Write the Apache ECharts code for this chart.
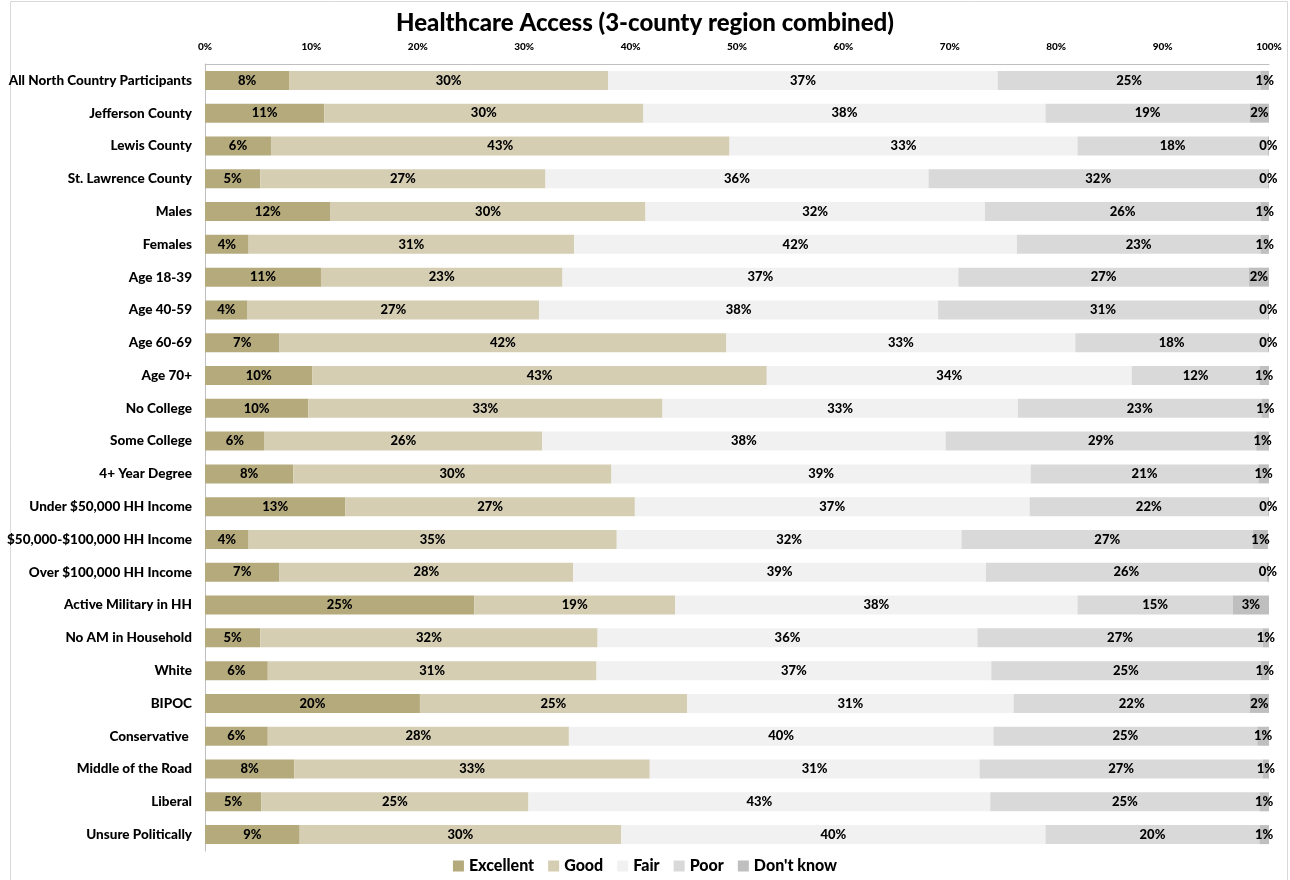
<!DOCTYPE html>
<html>
<head>
<meta charset="utf-8">
<script src="https://cdn.jsdelivr.net/npm/echarts@6/dist/echarts.min.js"></script>
<style>
html,body{margin:0;padding:0;background:#fff;}
#chart{width:1290px;height:880px;}
</style>
</head>
<body>
<div id="chart"></div>
<script>
const titleText = "Healthcare Access (3-county region combined)";
const categories = [
  "All North Country Participants","Jefferson County","Lewis County","St. Lawrence County",
  "Males","Females","Age 18-39","Age 40-59","Age 60-69","Age 70+","No College","Some College",
  "4+ Year Degree","Under $50,000 HH Income","$50,000-$100,000 HH Income","Over $100,000 HH Income",
  "Active Military in HH","No AM in Household","White","BIPOC","Conservative ","Middle of the Road",
  "Liberal","Unsure Politically"
];
const seriesNames = ["Excellent","Good","Fair","Poor","Don't know"];
const excellent = [7.9,11.2,6.2,5.2,11.8,4.1,10.9,4.0,7.0,10.1,9.7,5.6,8.3,13.2,4.1,7.0,25.3,5.2,5.9,20.2,5.9,8.4,5.3,8.9];
const good      = [30.0,30.0,43.1,26.8,29.6,30.6,22.7,27.4,42.0,42.7,33.3,26.1,29.9,27.2,34.6,27.6,18.9,31.7,30.9,25.1,28.3,33.4,25.1,30.2];
const fair      = [36.6,37.8,32.7,36.0,31.9,41.6,37.2,37.5,32.8,34.3,33.4,37.9,39.4,37.1,32.4,38.8,37.8,35.7,37.1,30.7,39.9,31.0,43.4,39.9];
const poor      = [24.7,19.2,17.9,31.9,25.9,22.9,27.3,31.0,18.1,12.0,22.9,29.2,21.4,22.4,27.4,26.4,14.6,26.8,25.3,22.2,24.8,26.6,25.3,20.1];
const dontKnow  = [0.8,1.8,0.1,0.1,0.8,0.8,1.9,0.1,0.1,0.9,0.7,1.2,1.0,0.1,1.4,0.2,3.4,0.6,0.8,1.8,1.1,0.6,0.9,0.9];
const xTicks = [0,10,20,30,40,50,60,70,80,90,100];
const colors = ["#b4aa7c","#d5ceb3","#f1f1f1","#d9d9d9","#bfbfbf"];

const FONT = "Lato, 'Open Sans', sans-serif";
const allData = [excellent, good, fair, poor, dontKnow];

const chart = echarts.init(document.getElementById('chart'), null, {renderer:'canvas'});
const option = {
  backgroundColor: '#ffffff',
  animation: false,
  title: {
    text: titleText, left: 'center', top: 6,
    textStyle: {fontFamily: FONT, fontWeight: 900, fontSize: 24, color: '#000'}
  },
  legend: {
    data: seriesNames, bottom: 1, left: 'center',
    itemWidth: 11, itemHeight: 11, itemGap: 14, icon: 'rect',
    textStyle: {fontFamily: FONT, fontWeight: 900, fontSize: 16, color: '#000'}
  },
  graphic: [{
    type: 'rect', left: 8, top: -1, silent: true,
    shape: {width: 1277, height: 882},
    style: {fill: 'none', stroke: '#d9d9d9', lineWidth: 1}
  }],
  grid: {left: 205, right: 21, top: 64, height: 787, containLabel: false},
  xAxis: {
    type: 'value', position: 'top', min: 0, max: 100, interval: 10,
    axisLine: {show: true, lineStyle: {color: '#bfbfbf', width: 1}},
    axisTick: {show: false},
    splitLine: {show: false},
    axisLabel: {
      fontFamily: FONT, fontWeight: 900, fontSize: 10, color: '#000', margin: 12,
      formatter: v => xTicks.includes(v) ? v + '%' : ''
    }
  },
  yAxis: {
    type: 'category', data: categories, inverse: true,
    axisLine: {show: true, lineStyle: {color: '#bfbfbf', width: 1}},
    axisTick: {show: false},
    axisLabel: {fontFamily: FONT, fontWeight: 900, fontSize: 13.5, color: '#000', margin: 13}
  },
  series: seriesNames.map((name, i) => ({
    name, type: 'bar', stack: 'total', barWidth: 19,
    itemStyle: {color: colors[i]},
    label: {
      show: true, position: 'inside', fontFamily: FONT, fontWeight: 900, fontSize: 13, color: '#000',
      formatter: p => Math.round(p.value) + '%'
    },
    labelLayout: {hideOverlap: false},
    data: allData[i]
  }))
};
chart.setOption(option);
</script>
</body>
</html>
